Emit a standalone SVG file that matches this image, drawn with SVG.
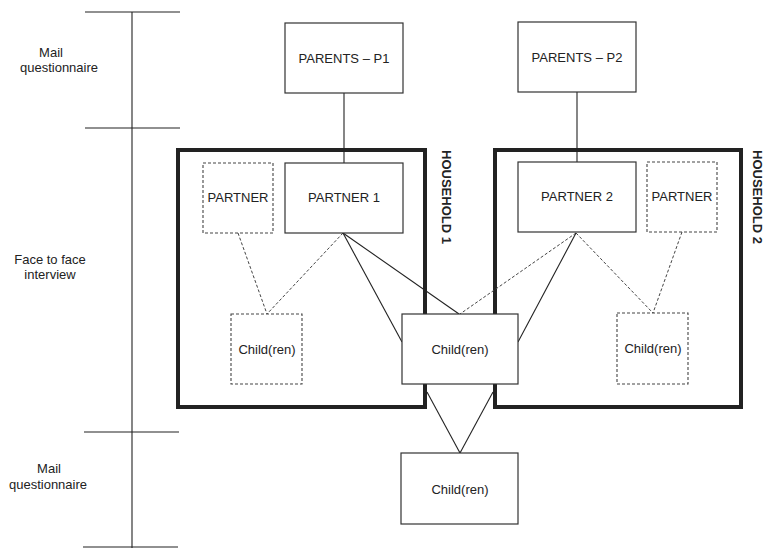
<svg xmlns="http://www.w3.org/2000/svg" width="764" height="548" viewBox="0 0 764 548">
<style>
text{font-family:"Liberation Sans",Arial,sans-serif;font-size:13px;fill:#222;text-anchor:middle;dominant-baseline:central}
.box{fill:#fff;stroke:#333;stroke-width:1.2}
.dbox{fill:#fff;stroke:#444;stroke-width:1.1;stroke-dasharray:3 2}
.hh{fill:none;stroke:#222;stroke-width:4}
.ln{stroke:#222;stroke-width:1.1;fill:none}
.dl{stroke:#444;stroke-width:1;fill:none;stroke-dasharray:3 2}
.hl{font-weight:bold;font-size:13px}
</style>
<rect width="764" height="548" fill="#fff"/>
<g id="timeline">
<line class="ln" x1="132" y1="12" x2="132" y2="548"/>
<line class="ln" x1="85" y1="12" x2="180" y2="12"/>
<line class="ln" x1="85" y1="128" x2="180" y2="128"/>
<line class="ln" x1="84" y1="432" x2="179" y2="432"/>
<line class="ln" x1="83" y1="547" x2="178" y2="547"/>
<text x="51" y="52">Mail</text>
<text x="59" y="67">questionnaire</text>
<text x="50" y="259">Face to face</text>
<text x="50" y="274">interview</text>
<text x="49" y="468">Mail</text>
<text x="48" y="484">questionnaire</text>
</g>
<g id="household1">
<rect class="hh" x="178" y="150" width="247" height="257"/>
<text class="hl" transform="translate(446 197) rotate(90)">HOUSEHOLD 1</text>
</g>
<g id="household2">
<rect class="hh" x="495" y="150" width="246" height="257"/>
<text class="hl" transform="translate(757 197) rotate(90)">HOUSEHOLD 2</text>
</g>
<g id="connectors">
<line class="ln" x1="344" y1="93" x2="344" y2="163"/>
<line class="ln" x1="577" y1="92" x2="577" y2="162"/>
<line class="dl" x1="238" y1="233" x2="267" y2="314"/>
<line class="dl" x1="343" y1="233" x2="267" y2="314"/>
<line class="ln" x1="343" y1="233" x2="402" y2="342"/>
<line class="ln" x1="343" y1="233" x2="459" y2="314"/>
<line class="dl" x1="576" y1="233" x2="460" y2="314"/>
<line class="ln" x1="576" y1="233" x2="518" y2="342"/>
<line class="dl" x1="576" y1="233" x2="653" y2="313"/>
<line class="dl" x1="682" y1="232" x2="653" y2="313"/>
<line class="ln" x1="427" y1="392" x2="460" y2="453"/>
<line class="ln" x1="493" y1="392" x2="460" y2="453"/>
</g>
<g id="parents-p1"><rect class="box" x="285" y="23" width="118" height="70"/><text x="344" y="58">PARENTS – P1</text></g>
<g id="parents-p2"><rect class="box" x="518" y="22" width="118" height="70"/><text x="577" y="57">PARENTS – P2</text></g>
<g id="partner-left"><rect class="dbox" x="203" y="163" width="70" height="70"/><text x="238" y="197">PARTNER</text></g>
<g id="partner1"><rect class="box" x="285" y="163" width="118" height="70"/><text x="344" y="197">PARTNER 1</text></g>
<g id="partner2"><rect class="box" x="518" y="162" width="118" height="70"/><text x="577" y="196">PARTNER 2</text></g>
<g id="partner-right"><rect class="dbox" x="647" y="162" width="70" height="70"/><text x="682" y="196">PARTNER</text></g>
<g id="child-left"><rect class="dbox" x="231" y="314" width="71" height="70"/><text x="267" y="349">Child(ren)</text></g>
<g id="child-center"><rect class="box" x="402" y="314" width="116" height="70"/><text x="460" y="349">Child(ren)</text></g>
<g id="child-right"><rect class="dbox" x="617" y="313" width="71" height="71"/><text x="653" y="348">Child(ren)</text></g>
<g id="child-bottom"><rect class="box" x="401" y="453" width="117" height="71"/><text x="460" y="489">Child(ren)</text></g>
</svg>
